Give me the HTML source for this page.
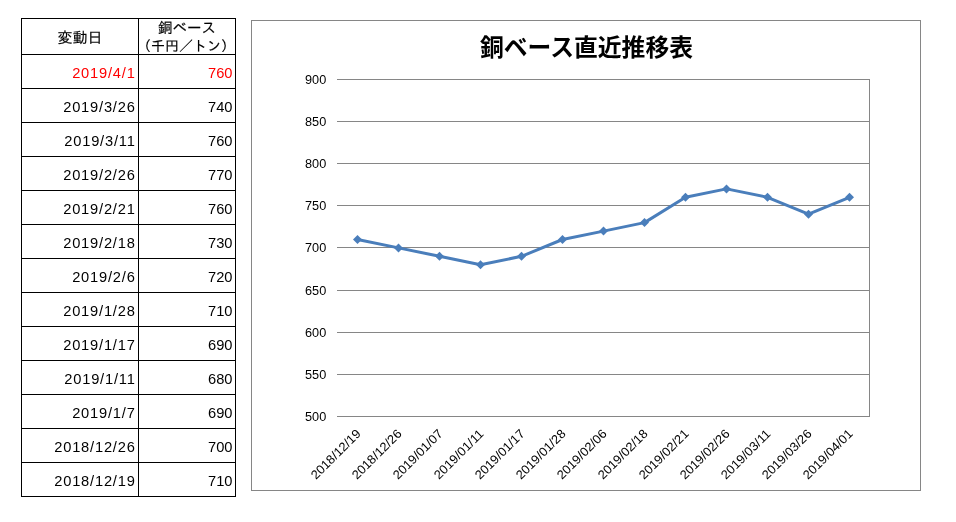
<!DOCTYPE html>
<html lang="ja">
<head>
<meta charset="utf-8">
<title>銅ベース直近推移表</title>
<style>
html,body{margin:0;padding:0;background:#fff;}
body{width:956px;height:522px;position:relative;overflow:hidden;font-family:"Liberation Sans","IPAGothic","Noto Sans CJK JP",sans-serif;}
table.t{position:absolute;left:21px;top:18px;border-collapse:collapse;table-layout:fixed;width:214px;font-size:14px;color:#000;}
table.t td,table.t th{border:1px solid #000;padding:0;box-sizing:border-box;font-weight:normal;overflow:hidden;white-space:nowrap;}
table.t th{height:36px;text-align:center;line-height:17px;font-size:14px;}
table.t th span{display:block;position:relative;-webkit-text-stroke:0.15px #000;}
table.t th span.h0{font-size:15px;top:0.5px;}
table.t th span.h1{font-size:14.5px;top:0.5px;}
table.t th span.h2{top:1.5px;left:-2px;}
table.t td{height:34px;text-align:right;line-height:20px;font-size:14.67px;vertical-align:top;padding-top:8px;}
table.t td.d{padding-right:2.4px;letter-spacing:0.8px;}
table.t td.v{padding-right:2.5px;}
table.t tr.red td{color:#ff0000;}
svg.chart{position:absolute;left:0;top:0;}
svg.chart text{font-family:"Liberation Sans","Noto Sans CJK JP",sans-serif;fill:#000;}
svg.chart g.ylab text{font-size:12px;}
svg.chart g.xlab text{font-size:12.5px;}
svg.chart text.title{font-family:"Liberation Sans","Noto Sans CJK JP",sans-serif;font-size:24px;font-weight:bold;}
</style>
</head>
<body>
<table class="t">
<colgroup><col style="width:117px"><col style="width:97px"></colgroup>
<thead><tr><th><span class="h0">変動日</span></th><th><span class="h1">銅ベース</span><span class="h2">（千円／トン）</span></th></tr></thead>
<tbody>
<tr class="red"><td class="d">2019/4/1</td><td class="v">760</td></tr>
<tr><td class="d">2019/3/26</td><td class="v">740</td></tr>
<tr><td class="d">2019/3/11</td><td class="v">760</td></tr>
<tr><td class="d">2019/2/26</td><td class="v">770</td></tr>
<tr><td class="d">2019/2/21</td><td class="v">760</td></tr>
<tr><td class="d">2019/2/18</td><td class="v">730</td></tr>
<tr><td class="d">2019/2/6</td><td class="v">720</td></tr>
<tr><td class="d">2019/1/28</td><td class="v">710</td></tr>
<tr><td class="d">2019/1/17</td><td class="v">690</td></tr>
<tr><td class="d">2019/1/11</td><td class="v">680</td></tr>
<tr><td class="d">2019/1/7</td><td class="v">690</td></tr>
<tr><td class="d">2018/12/26</td><td class="v">700</td></tr>
<tr><td class="d">2018/12/19</td><td class="v">710</td></tr>
</tbody>
</table>
<svg class="chart" width="956" height="522" viewBox="0 0 956 522">
<rect x="251.5" y="20.5" width="669" height="470" fill="#fff" stroke="#868686" stroke-width="1"/>
<g stroke="#868686" stroke-width="1" shape-rendering="crispEdges">
<line x1="337" y1="79.5" x2="870" y2="79.5"/>
<line x1="337" y1="121.5" x2="870" y2="121.5"/>
<line x1="337" y1="163.5" x2="870" y2="163.5"/>
<line x1="337" y1="205.5" x2="870" y2="205.5"/>
<line x1="337" y1="247.5" x2="870" y2="247.5"/>
<line x1="337" y1="290.5" x2="870" y2="290.5"/>
<line x1="337" y1="332.5" x2="870" y2="332.5"/>
<line x1="337" y1="374.5" x2="870" y2="374.5"/>
<line x1="337" y1="416.5" x2="870" y2="416.5"/>
<line x1="869.5" y1="79" x2="869.5" y2="417"/>
</g>
<g class="ylab" text-anchor="end" font-size="12">
<text x="326.2" y="83.8" textLength="21.2" lengthAdjust="spacingAndGlyphs">900</text>
<text x="326.2" y="125.8" textLength="21.2" lengthAdjust="spacingAndGlyphs">850</text>
<text x="326.2" y="167.8" textLength="21.2" lengthAdjust="spacingAndGlyphs">800</text>
<text x="326.2" y="209.8" textLength="21.2" lengthAdjust="spacingAndGlyphs">750</text>
<text x="326.2" y="251.8" textLength="21.2" lengthAdjust="spacingAndGlyphs">700</text>
<text x="326.2" y="294.8" textLength="21.2" lengthAdjust="spacingAndGlyphs">650</text>
<text x="326.2" y="336.8" textLength="21.2" lengthAdjust="spacingAndGlyphs">600</text>
<text x="326.2" y="378.8" textLength="21.2" lengthAdjust="spacingAndGlyphs">550</text>
<text x="326.2" y="420.8" textLength="21.2" lengthAdjust="spacingAndGlyphs">500</text>
</g>
<polyline points="357.5,239.5 398.5,247.9 439.5,256.3 480.5,264.8 521.5,256.3 562.5,239.5 603.5,231.1 644.5,222.6 685.5,197.3 726.5,188.9 767.5,197.3 808.5,214.2 849.5,197.3" fill="none" stroke="#4a7ebb" stroke-width="3" stroke-linejoin="round" stroke-linecap="round"/>
<g fill="#4a7ebb">
<path d="M357.5 235.0L362.0 239.5L357.5 244.0L353.0 239.5Z"/>
<path d="M398.5 243.4L403.0 247.9L398.5 252.4L394.0 247.9Z"/>
<path d="M439.5 251.8L444.0 256.3L439.5 260.8L435.0 256.3Z"/>
<path d="M480.5 260.2L485.0 264.8L480.5 269.2L476.0 264.8Z"/>
<path d="M521.5 251.8L526.0 256.3L521.5 260.8L517.0 256.3Z"/>
<path d="M562.5 235.0L567.0 239.5L562.5 244.0L558.0 239.5Z"/>
<path d="M603.5 226.6L608.0 231.1L603.5 235.6L599.0 231.1Z"/>
<path d="M644.5 218.1L649.0 222.6L644.5 227.1L640.0 222.6Z"/>
<path d="M685.5 192.8L690.0 197.3L685.5 201.8L681.0 197.3Z"/>
<path d="M726.5 184.4L731.0 188.9L726.5 193.4L722.0 188.9Z"/>
<path d="M767.5 192.8L772.0 197.3L767.5 201.8L763.0 197.3Z"/>
<path d="M808.5 209.7L813.0 214.2L808.5 218.7L804.0 214.2Z"/>
<path d="M849.5 192.8L854.0 197.3L849.5 201.8L845.0 197.3Z"/>
</g>
<g class="xlab" text-anchor="end">
<text transform="translate(361.5 434.5) rotate(-45)" textLength="64.5" lengthAdjust="spacingAndGlyphs">2018/12/19</text>
<text transform="translate(402.5 434.5) rotate(-45)" textLength="64.5" lengthAdjust="spacingAndGlyphs">2018/12/26</text>
<text transform="translate(443.5 434.5) rotate(-45)" textLength="64.5" lengthAdjust="spacingAndGlyphs">2019/01/07</text>
<text transform="translate(484.5 434.5) rotate(-45)" textLength="64.5" lengthAdjust="spacingAndGlyphs">2019/01/11</text>
<text transform="translate(525.5 434.5) rotate(-45)" textLength="64.5" lengthAdjust="spacingAndGlyphs">2019/01/17</text>
<text transform="translate(566.5 434.5) rotate(-45)" textLength="64.5" lengthAdjust="spacingAndGlyphs">2019/01/28</text>
<text transform="translate(607.5 434.5) rotate(-45)" textLength="64.5" lengthAdjust="spacingAndGlyphs">2019/02/06</text>
<text transform="translate(648.5 434.5) rotate(-45)" textLength="64.5" lengthAdjust="spacingAndGlyphs">2019/02/18</text>
<text transform="translate(689.5 434.5) rotate(-45)" textLength="64.5" lengthAdjust="spacingAndGlyphs">2019/02/21</text>
<text transform="translate(730.5 434.5) rotate(-45)" textLength="64.5" lengthAdjust="spacingAndGlyphs">2019/02/26</text>
<text transform="translate(771.5 434.5) rotate(-45)" textLength="64.5" lengthAdjust="spacingAndGlyphs">2019/03/11</text>
<text transform="translate(812.5 434.5) rotate(-45)" textLength="64.5" lengthAdjust="spacingAndGlyphs">2019/03/26</text>
<text transform="translate(853.5 434.5) rotate(-45)" textLength="64.5" lengthAdjust="spacingAndGlyphs">2019/04/01</text>
</g>
<text class="title" x="586.5" y="55.5" text-anchor="middle" textLength="213" lengthAdjust="spacingAndGlyphs">銅ベース直近推移表</text>
</svg>
</body>
</html>
